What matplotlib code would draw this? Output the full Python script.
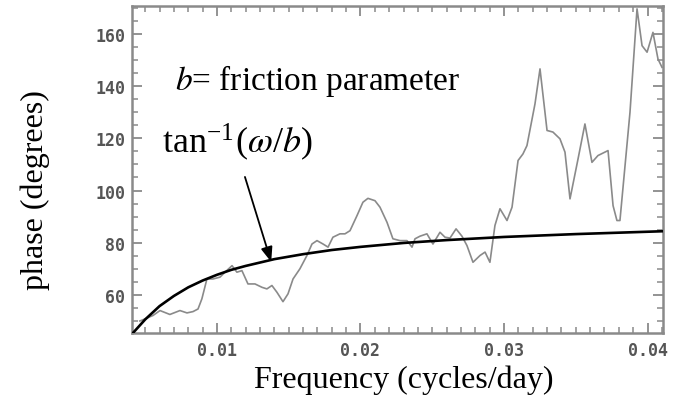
import matplotlib
matplotlib.use("Agg")
import matplotlib.pyplot as plt
from matplotlib.ticker import MultipleLocator

# measured phase (gray, noisy)
freq_obs = [0.00463, 0.00498, 0.00554, 0.00603, 0.00672, 0.00742, 0.00791, 0.00833,
            0.00868, 0.00895, 0.00930, 0.00972, 0.01021, 0.01056, 0.01105, 0.01139,
            0.01174, 0.01216, 0.01265, 0.01314, 0.01348, 0.01383, 0.01418, 0.01460,
            0.01495, 0.01530, 0.01578, 0.01627, 0.01662, 0.01697, 0.01739, 0.01774,
            0.01808, 0.01857, 0.01892, 0.01927, 0.01976, 0.02017, 0.02052, 0.02101,
            0.02136, 0.02185, 0.02226, 0.02275, 0.02324, 0.02359, 0.02380, 0.02415,
            0.02463, 0.02505, 0.02554, 0.02589, 0.02624, 0.02666, 0.02707, 0.02742,
            0.02784, 0.02833, 0.02868, 0.02902, 0.02937, 0.02972, 0.03021, 0.03056,
            0.03098, 0.03132, 0.03160, 0.03216, 0.03251, 0.03300, 0.03341, 0.03390,
            0.03425, 0.03460, 0.03516, 0.03564, 0.03613, 0.03655, 0.03725, 0.03760,
            0.03787, 0.03808, 0.03878, 0.03927, 0.03962, 0.03997, 0.04038, 0.04073,
            0.04101]
phase_obs = [50.0, 50.8, 52.1, 54.0, 52.5, 54.0, 53.1, 53.6,
             54.6, 58.5, 66.1, 66.1, 66.8, 68.7, 71.2, 68.7,
             69.3, 64.2, 64.2, 62.9, 62.3, 63.6, 61.0, 57.4,
             60.4, 66.1, 70.0, 75.1, 79.5, 80.8, 79.5, 78.3,
             82.1, 83.4, 83.4, 84.6, 90.4, 95.5, 97.0, 96.1,
             93.6, 87.8, 81.5, 80.8, 80.8, 78.3, 81.5, 82.5,
             83.4, 79.5, 84.0, 82.1, 81.8, 85.3, 82.5, 78.9,
             72.5, 75.1, 76.4, 72.5, 86.6, 93.0, 88.5, 93.6,
             111.5, 114.0, 117.2, 133.2, 146.6, 123.0, 122.4, 119.8,
             114.7, 96.8, 112.1, 125.5, 110.8, 113.4, 115.3, 94.2,
             88.5, 88.5, 130.0, 169.6, 155.5, 153.0, 160.6, 150.4,
             147.2]

# model curve tan^-1(omega/b) (black)
freq_model = [0.00408, 0.0050, 0.0060, 0.0070, 0.0080, 0.0090, 0.0100, 0.0110,
              0.0120, 0.0140, 0.0160, 0.0180, 0.0200, 0.0230, 0.0260, 0.0300,
              0.0350, 0.0411]
phase_model = [45.0, 50.6, 55.7, 59.6, 62.9, 65.5, 67.7, 69.6,
               71.1, 73.7, 75.6, 77.2, 78.4, 79.9, 81.0, 82.2,
               83.3, 84.4]

xticks = [0.01, 0.02, 0.03, 0.04]
xticklabels = ["0.01", "0.02", "0.03", "0.04"]
yticks = [60, 80, 100, 120, 140, 160]
yticklabels = ["60", "80", "100", "120", "140", "160"]

plt.rcParams['mathtext.fontset'] = 'stix'

W, H = 676, 402
fig = plt.figure(figsize=(W / 100, H / 100), dpi=100)
L, R, B, T = 132, 663, 334, 7
ax = fig.add_axes([L / W, 1 - B / H, (R - L) / W, (B - T) / H])

ax.plot(freq_obs, phase_obs, color="#8a8a8a", lw=1.2, zorder=2)
ax.plot(freq_model, phase_model, color="black", lw=1.9, zorder=3)

ax.set_xlim(0.00408, 0.04108)
ax.set_ylim(45.4, 170.7)

ax.set_xticks(xticks)
ax.set_xticklabels(xticklabels)
ax.set_yticks(yticks)
ax.set_yticklabels(yticklabels)
ax.xaxis.set_minor_locator(MultipleLocator(0.001))
ax.yaxis.set_minor_locator(MultipleLocator(5))

for lab in ax.get_xticklabels() + ax.get_yticklabels():
    lab.set_fontfamily("DejaVu Sans Mono")
    lab.set_fontweight("bold")
    lab.set_fontsize(12)
    lab.set_color("#555555")

ax.tick_params(which="both", direction="in", top=True, right=True, color="#8a8a8a")
ax.tick_params(which="major", length=7, width=1.3)
ax.tick_params(which="minor", length=4, width=1.1)
ax.tick_params(axis="x", which="major", pad=6)
ax.tick_params(axis="y", which="major", pad=5)
for sp in ax.spines.values():
    sp.set_color("#8a8a8a")
    sp.set_linewidth(1.8)

serif = "Liberation Serif"
ax.text(0.00707, 138.9, r"$b$= friction parameter", family=serif, fontsize=24,
        ha="left", va="baseline")
ax.text(0.00617, 114.8, r"tan$^{\mathregular{-1}}$($\omega$/$b$)", family=serif,
        fontsize=26, ha="left", va="baseline")
ax.annotate("", xy=(0.01378, 72.6), xytext=(0.01195, 105.2),
            arrowprops=dict(arrowstyle="-|>,head_length=0.9,head_width=0.35",
                            color="black", lw=1.3, shrinkA=0, shrinkB=0), zorder=4)

fig.text(404 / W, 1 - 388 / H, "Frequency (cycles/day)", family=serif, fontsize=23,
         ha="center", va="baseline")
fig.text(35 / W, 1 - 190 / H, "phase (degrees)", family=serif, fontsize=23,
         rotation=90, ha="center", va="center")

fig.savefig("out.png", dpi=100)
